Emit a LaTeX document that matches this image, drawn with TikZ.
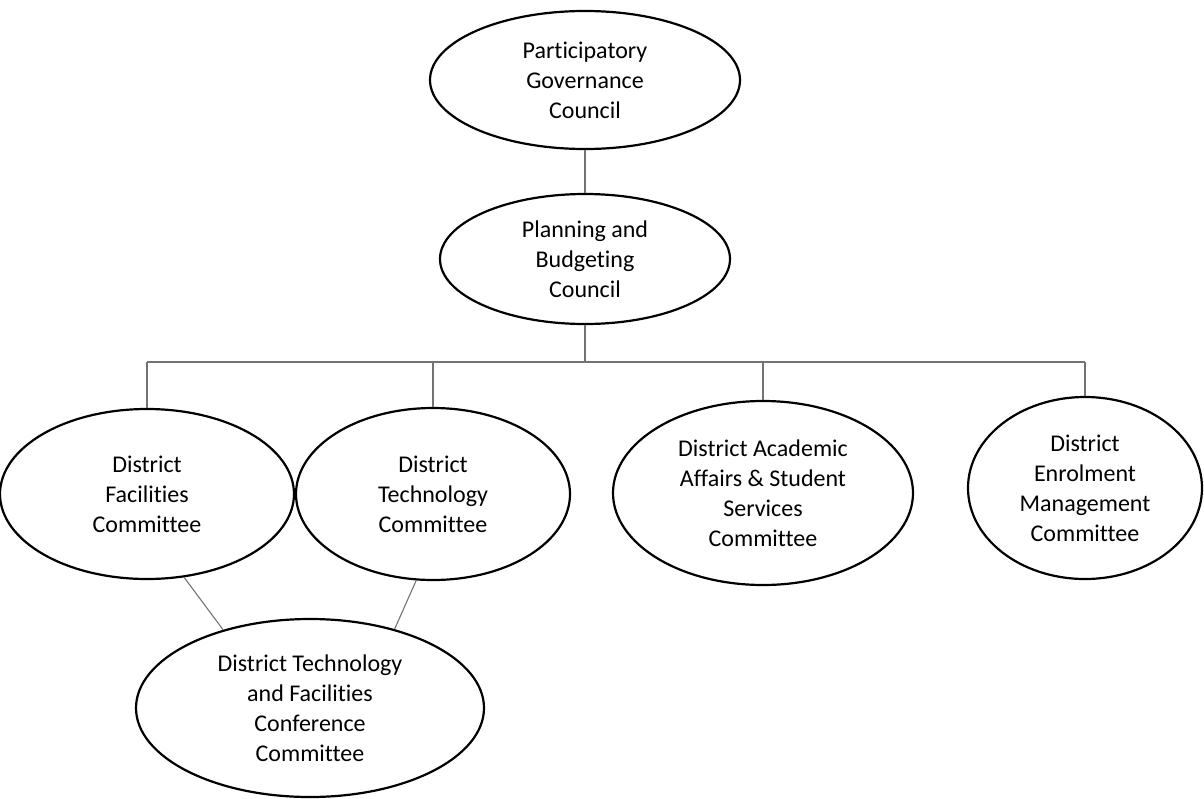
\documentclass[tikz,border=0pt]{standalone}
\usepackage{fontspec}
\setmainfont[Ligatures=NoCommon]{Carlito}
\usetikzlibrary{shapes.geometric}
\begin{document}
\begin{tikzpicture}[x=1pt,y=-1pt,
  org/.style={ellipse,draw=black,line width=2.2pt,inner sep=0pt,align=center,
    font=\fontsize{24}{30}\selectfont},
  link/.style={draw=black!55,line width=1.1pt}]
\useasboundingbox (0,0) rectangle (1204,798);
\node[org,minimum width=310pt,minimum height=138pt] (pgc) at (585,80) {Participatory\\Governance\\Council};
\node[org,minimum width=290pt,minimum height=130pt] (pbc) at (585,259) {Planning and\\Budgeting\\Council};
\node[org,minimum width=294pt,minimum height=170pt] (dfc) at (147,494) {District\\Facilities\\Committee};
\node[org,minimum width=274pt,minimum height=172pt] (dtc) at (433,494) {District\\Technology\\Committee};
\node[org,minimum width=300pt,minimum height=184pt] (daa) at (763,493) {District Academic\\Affairs \& Student\\Services\\Committee};
\node[org,minimum width=234pt,minimum height=182pt] (dem) at (1085,488) {District\\Enrolment\\Management\\Committee};
\node[org,minimum width=348pt,minimum height=178pt] (dtf) at (310,708) {District Technology\\and Facilities\\Conference\\Committee};
\coordinate (bus) at (585,362);
\draw[link] (pgc.south) -- (pbc.north);
\draw[link] (pbc.south) -- (bus);
\draw[link] (bus -| dfc.north) -- (bus -| dem.north);
\draw[link] (bus -| dfc.north) -- (dfc.north);
\draw[link] (bus -| dtc.north) -- (dtc.north);
\draw[link] (bus -| daa.north) -- (daa.north);
\draw[link] (bus -| dem.north) -- (dem.north);
\draw[link] (dfc.-66) -- (dtf.138);
\draw[link] (dtc.-101) -- (dtf.43);
\end{tikzpicture}
\end{document}
